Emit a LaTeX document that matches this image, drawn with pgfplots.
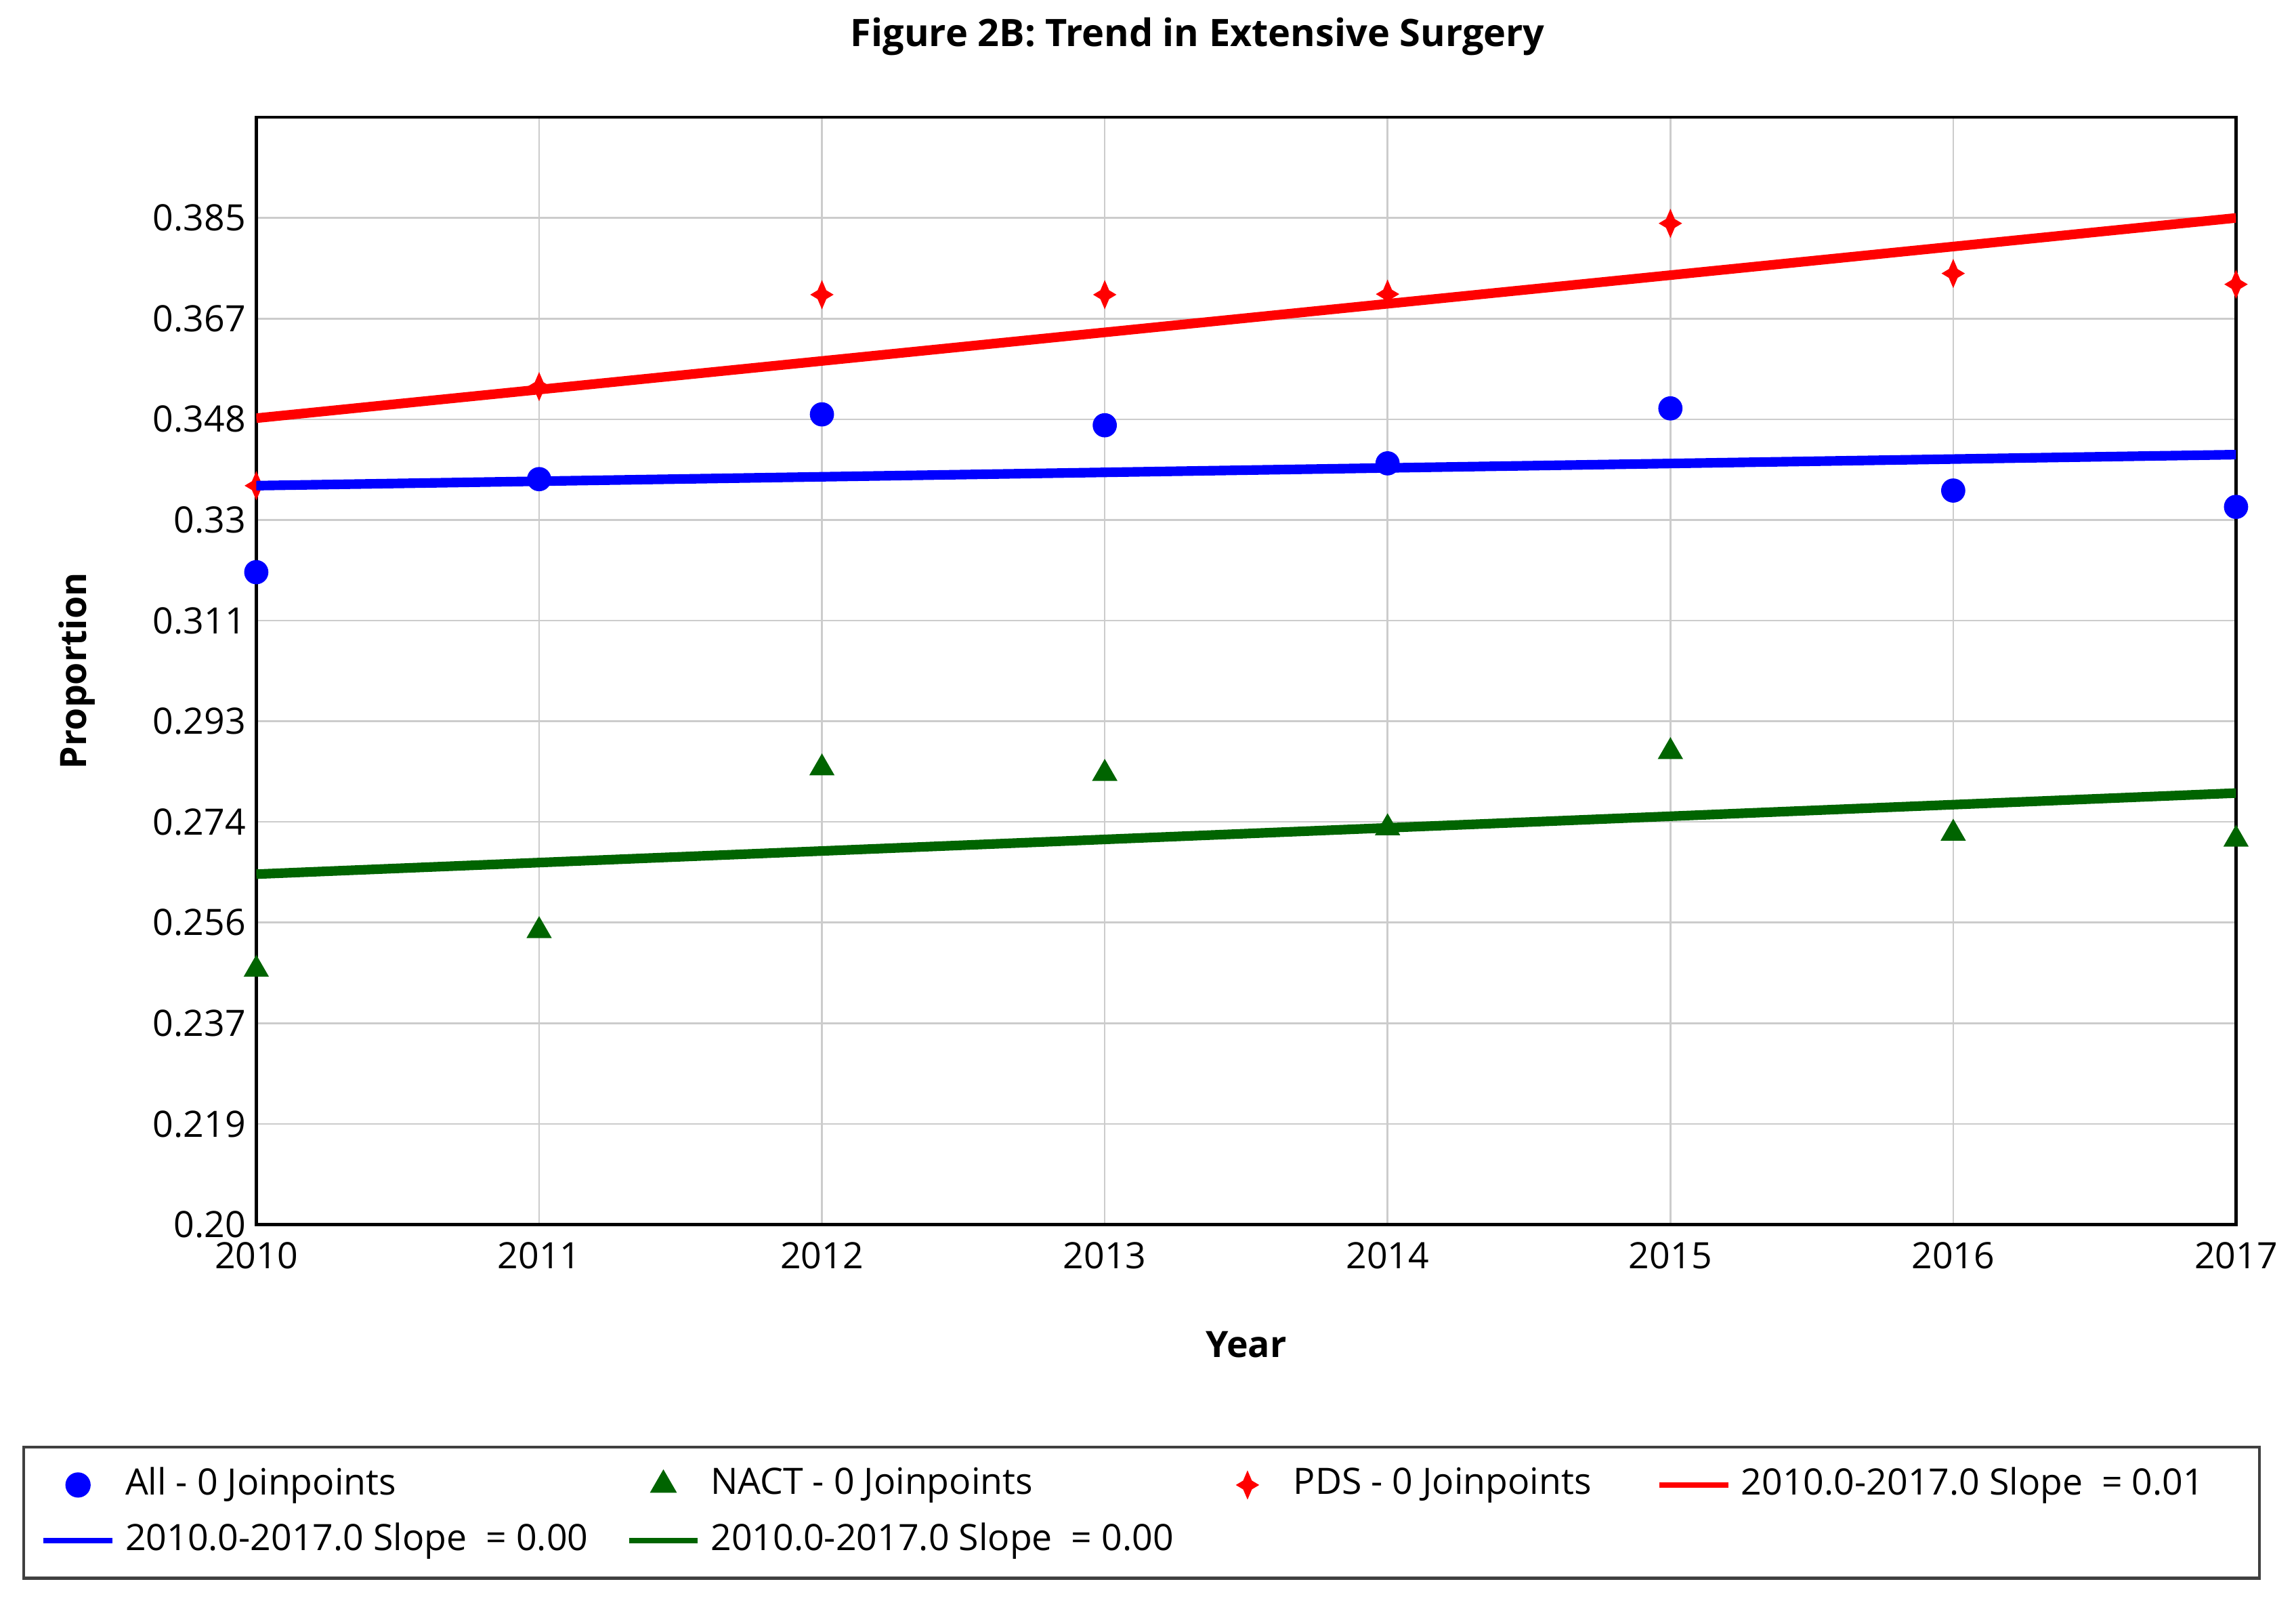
\documentclass[border=0pt]{standalone}
\usepackage{fontspec}
\setmainfont{Open Sans}
\usepackage{pgfplots}
\pgfplotsset{compat=1.18}

\newcommand{\fs}{\fontsize{7.2pt}{8.6pt}\selectfont}
\newcommand{\lt}[2][3.42cm]{\makebox[#1][l]{#2}}

% four-pointed star used by JoinPoint for the PDS series
\pgfdeclareplotmark{star4}{%
  \pgfpathmoveto{\pgfpoint{0pt}{\pgfplotmarksize}}%
  \pgfpathlineto{\pgfpoint{0.3\pgfplotmarksize}{0.3\pgfplotmarksize}}%
  \pgfpathlineto{\pgfpoint{0.8\pgfplotmarksize}{0pt}}%
  \pgfpathlineto{\pgfpoint{0.3\pgfplotmarksize}{-0.3\pgfplotmarksize}}%
  \pgfpathlineto{\pgfpoint{0pt}{-\pgfplotmarksize}}%
  \pgfpathlineto{\pgfpoint{-0.3\pgfplotmarksize}{-0.3\pgfplotmarksize}}%
  \pgfpathlineto{\pgfpoint{-0.8\pgfplotmarksize}{0pt}}%
  \pgfpathlineto{\pgfpoint{-0.3\pgfplotmarksize}{0.3\pgfplotmarksize}}%
  \pgfpathclose
  \pgfusepathqfill}

\definecolor{jpblue}{RGB}{0,0,255}
\definecolor{jpgreen}{RGB}{0,100,0}
\definecolor{jpred}{RGB}{255,0,0}

\pgfplotsset{
  markleg/.style={legend image code/.code={%
      \path (0cm,-0.05cm) (0.48cm,0.05cm);
      \draw[##1] plot coordinates {(0.24cm,0cm)};}},
  lineleg/.style={legend image code/.code={%
      \draw[##1, line width=1.1pt] (0cm,0cm) -- (0.48cm,0cm);}},
}

\begin{document}
\begin{tikzpicture}
\path[use as bounding box] (-1.786cm,-2.663cm) rectangle (14.214cm,8.531cm);
\begin{axis}[
  at={(0,0)}, anchor=south west,
  scale only axis,
  width=13.796cm, height=7.714cm,
  xmin=2010, xmax=2017,
  ymin=0.2, ymax=0.4035,
  xtick={2010,2011,2012,2013,2014,2015,2016,2017},
  xticklabels={2010,2011,2012,2013,2014,2015,2016,2017},
  ytick={0.2,0.2185,0.237,0.2555,0.274,0.2925,0.311,0.3295,0.348,0.3665,0.385},
  yticklabels={0.20,0.219,0.237,0.256,0.274,0.293,0.311,0.33,0.348,0.367,0.385},
  major tick length=0pt,
  grid=major,
  grid style={black!20, line width=0.35pt},
  axis line style={line width=0.6pt},
  tick label style={font=\fs},
  yticklabel style={xshift=0.05cm},
  clip mode=individual,
  xlabel={Year},
  xlabel style={font=\fs\bfseries, at={(axis description cs:0.5,-0.1085)}, anchor=center},
  ylabel={Proportion},
  ylabel style={font=\fs\bfseries, at={(axis description cs:-0.0905,0.5)}, anchor=center},
  legend columns=4,
  legend cell align=left,
  legend style={
    at={(axis description cs:-0.1183,-0.1997)}, anchor=north west,
    draw=black!75, line width=0.6pt,
    inner xsep=0.12cm, inner ysep=2pt,
    font=\fs,
    nodes={inner sep=2pt},
  },
]

% observed proportions
\addplot[only marks, mark=*, mark size=2.2pt, color=jpblue, markleg] coordinates {
  (2010,0.3199) (2011,0.3370) (2012,0.3489) (2013,0.3469)
  (2014,0.3399) (2015,0.3500) (2016,0.3349) (2017,0.3319)
};
\addlegendentry{\lt{All - 0 Joinpoints}}

\addplot[only marks, mark=triangle*, mark size=2.5pt, color=jpgreen, markleg] coordinates {
  (2010,0.2469) (2011,0.2540) (2012,0.2839) (2013,0.2829)
  (2014,0.2729) (2015,0.2869) (2016,0.2719) (2017,0.2708)
};
\addlegendentry{\lt{NACT - 0 Joinpoints}}

\addplot[only marks, mark=star4, mark size=2.9pt, color=jpred, markleg] coordinates {
  (2010,0.3358) (2011,0.3540) (2012,0.3709) (2013,0.3709)
  (2014,0.3710) (2015,0.3840) (2016,0.3748) (2017,0.3728)
};
\addlegendentry{\lt[2.46cm]{PDS - 0 Joinpoints}}

% fitted trends
\addplot[jpred, line width=1.9pt, lineleg] coordinates {(2010,0.3482) (2017,0.3850)};
\addlegendentry{\lt{2010.0-2017.0 Slope~ = 0.01}}

\addplot[jpblue, line width=1.9pt, lineleg] coordinates {(2010,0.3358) (2017,0.3415)};
\addlegendentry{\lt{2010.0-2017.0 Slope~ = 0.00}}

\addplot[jpgreen, line width=1.9pt, lineleg] coordinates {(2010,0.2644) (2017,0.2793)};
\addlegendentry{\lt{2010.0-2017.0 Slope~ = 0.00}}

\end{axis}
\node[font=\fontsize{7.5pt}{9pt}\selectfont\bfseries, anchor=center] at (6.56cm,8.276cm) {Figure 2B: Trend in Extensive Surgery};
\end{tikzpicture}
\end{document}
